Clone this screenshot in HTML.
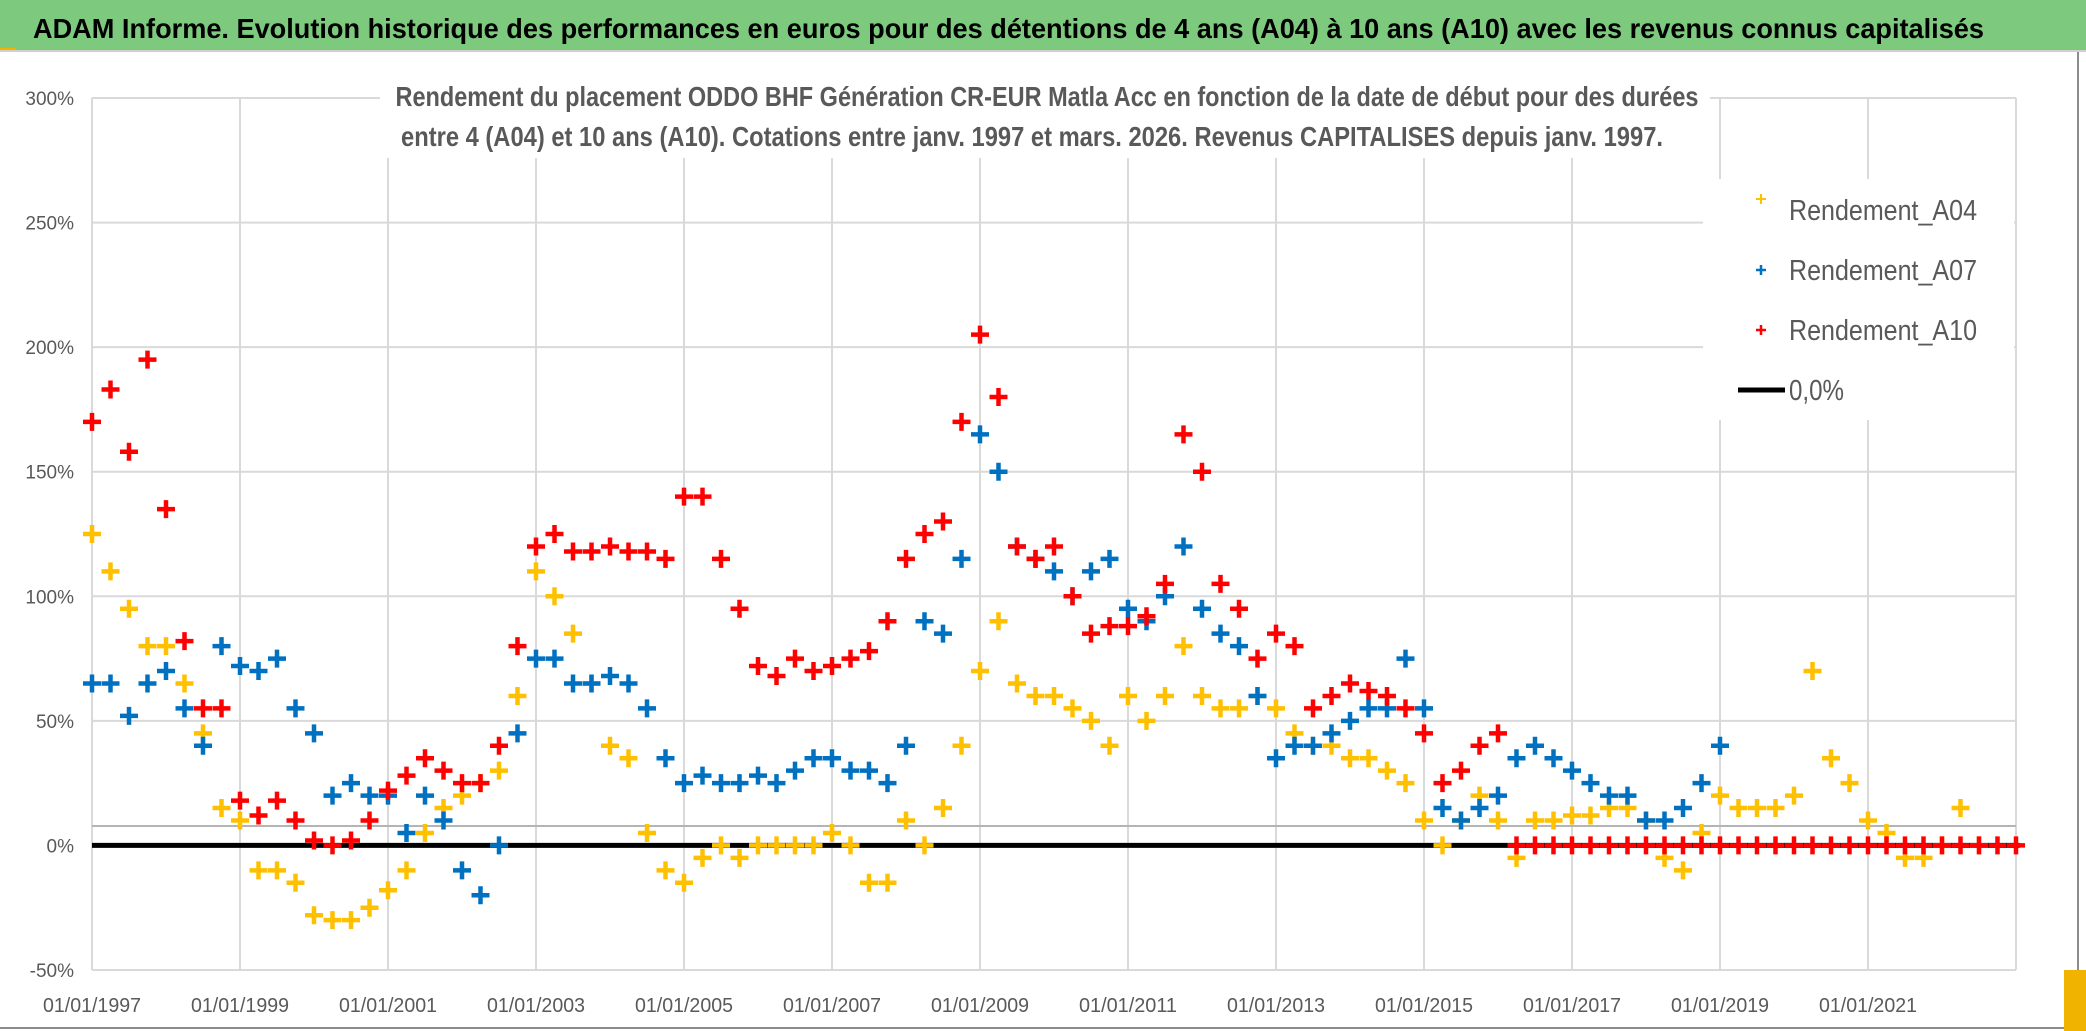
<!DOCTYPE html>
<html><head><meta charset="utf-8"><style>
html,body{margin:0;padding:0;background:#fff;}
svg{display:block;font-family:"Liberation Sans",sans-serif;}
</style></head><body>
<svg id="chart" width="2086" height="1031" viewBox="0 0 2086 1031" xmlns="http://www.w3.org/2000/svg">
<rect x="0" y="0" width="2086" height="1031" fill="#fff"/>
<rect x="0" y="0" width="2086" height="50" fill="#7dc97d"/>
<rect x="0" y="48" width="16" height="4" fill="#f0b400"/>
<line x1="0" y1="51" x2="2086" y2="51" stroke="#d0d0d0" stroke-width="2"/>
<text x="33" y="38" font-size="28" font-weight="bold" fill="#000" textLength="1951" lengthAdjust="spacingAndGlyphs">ADAM Informe. Evolution historique des performances en euros pour des détentions de 4 ans (A04) à 10 ans (A10) avec les revenus connus capitalisés</text>
<line x1="2078" y1="52" x2="2078" y2="1028" stroke="#8c8c8c" stroke-width="2"/>
<line x1="0" y1="1028" x2="2078" y2="1028" stroke="#8c8c8c" stroke-width="2"/>
<rect x="2064" y="970" width="22" height="61" fill="#f0b400"/>
<g id="grid"></g>
<rect x="380" y="60" width="1330" height="98" fill="#fff"/>
<rect x="1703" y="179" width="311" height="241" fill="#fff"/>
<text x="1047" y="106" text-anchor="middle" font-size="28" font-weight="bold" fill="#595959" textLength="1303" lengthAdjust="spacingAndGlyphs">Rendement du placement ODDO BHF Génération CR-EUR Matla Acc en fonction de la date de début pour des durées</text>
<text x="1032" y="146" text-anchor="middle" font-size="28" font-weight="bold" fill="#595959" textLength="1262" lengthAdjust="spacingAndGlyphs">entre 4 (A04) et 10 ans (A10). Cotations entre janv. 1997 et mars. 2026. Revenus CAPITALISES depuis janv. 1997.</text>
<g id="yaxis"></g>
<g id="xaxis"></g>
<g id="marks"></g>
<g id="legend">
  <g>
    <path d="M1756 199h10M1761 194v10" stroke="#ffc000" stroke-width="2"/>
    <text x="1789" y="220" font-size="29" fill="#595959" textLength="188" lengthAdjust="spacingAndGlyphs">Rendement_A04</text>
  </g>
  <g>
    <path d="M1756 270h10M1761 265v10" stroke="#0070c0" stroke-width="2.5"/>
    <text x="1789" y="280" font-size="29" fill="#595959" textLength="188" lengthAdjust="spacingAndGlyphs">Rendement_A07</text>
  </g>
  <g>
    <path d="M1756 330h10M1761 325v10" stroke="#ff0000" stroke-width="2.5"/>
    <text x="1789" y="340" font-size="29" fill="#595959" textLength="188" lengthAdjust="spacingAndGlyphs">Rendement_A10</text>
  </g>
  <g>
    <line x1="1738" y1="390" x2="1785" y2="390" stroke="#000" stroke-width="5"/>
    <text x="1789" y="400" font-size="29" fill="#595959" textLength="55" lengthAdjust="spacingAndGlyphs">0,0%</text>
  </g>
</g>
</svg>
<script>
const startYear = 1997;
const stepYears = 0.25;
const yTickValues = [300, 250, 200, 150, 100, 50, 0, -50];
const yTickLabels = ["300%", "250%", "200%", "150%", "100%", "50%", "0%", "-50%"];
const xTickYears = [1997, 1999, 2001, 2003, 2005, 2007, 2009, 2011, 2013, 2015, 2017, 2019, 2021];
const xTickLabels = ["01/01/1997","01/01/1999","01/01/2001","01/01/2003","01/01/2005","01/01/2007","01/01/2009","01/01/2011","01/01/2013","01/01/2015","01/01/2017","01/01/2019","01/01/2021"];
const zeroLineYears = [1997, 2023.05];
const rendementA04 = [125,110,95,80, 80,65,45,15, 10,-10,-10,-15, -28,-30,-30,-25, -18,-10,5,15, 20,25,30,60,
  110,100,85,65, 40,35,5,-10, -15,-5,0,-5, 0,0,0,0, 5,0,-15,-15, 10,0,15,40, 70,90,65,60, 60,55,50,40,
  60,50,60,80, 60,55,55,60, 55,45,40,40, 35,35,30,25, 10,0,10,20, 10,-5,10,10, 12,12,15,15,
  10,-5,-10,5, 20,15,15,15, 20,70,35,25, 10,5,-5,-5, 0,15,0];
const rendementA07 = [65,65,52,65, 70,55,40,80, 72,70,75,55, 45,20,25,20, 20,5,20,10, -10,-20,0,45,
  75,75,65,65, 68,65,55,35, 25,28,25,25, 28,25,30,35, 35,30,30,25, 40,90,85,115, 165,150,120,115,
  110,100,110,115, 95,90,100,120, 95,85,80,60, 35,40,40,45, 50,55,55,75, 55,15,10,15, 20,35,40,35,
  30,25,20,20, 10,10,15,25, 40];
const rendementA10 = [170,183,158,195, 135,82,55,55, 18,12,18,10, 2,0,2,10, 22,28,35,30, 25,25,40,80,
  120,125,118,118, 120,118,118,115, 140,140,115,95, 72,68,75,70, 72,75,78,90, 115,125,130,170,
  205,180,120,115, 120,100,85,88, 88,92,105,165, 150,105,95,75, 85,80,55,60, 65,62,60,55, 45,25,30,40,
  45, 0,0,0, 0,0,0,0, 0,0,0,0, 0,0,0,0, 0,0,0,0, 0,0,0,0, 0,0,0,0, 0];

const NS = "http://www.w3.org/2000/svg";
const plotLeft = 92, plotRight = 2016, plotTop = 98, plotBottom = 970;
const xMin = 1997, xMax = 2023;
const yMin = -50, yMax = 300;
function xScale(yr){ return plotLeft + (yr - xMin) / (xMax - xMin) * (plotRight - plotLeft); }
function yScale(v){ return plotBottom - (v - yMin) / (yMax - yMin) * (plotBottom - plotTop); }
function mk(tag, attrs, parent){ const e = document.createElementNS(NS, tag); for (const k in attrs) e.setAttribute(k, attrs[k]); parent.appendChild(e); return e; }

const grid = document.getElementById('grid');
yTickValues.forEach(v => {
  const l = mk('line', {x1: plotLeft, x2: plotRight, y1: yScale(v), y2: yScale(v), stroke: '#d9d9d9', 'stroke-width': 2}, grid);
  
  
});
xTickYears.forEach(yr => {
  const l = mk('line', {x1: xScale(yr), x2: xScale(yr), y1: plotTop, y2: plotBottom, stroke: '#d9d9d9', 'stroke-width': 2}, grid);
  
  
});
const rl = mk('line', {x1: plotRight, x2: plotRight, y1: plotTop, y2: plotBottom, stroke: '#d9d9d9', 'stroke-width': 2}, grid);


const hl = mk('line', {x1: plotLeft, x2: plotRight, y1: 826, y2: 826, stroke: '#b4b4b4', 'stroke-width': 2}, grid);



const yaxis = document.getElementById('yaxis');
yTickValues.forEach((v, i) => {
  const t = mk('text', {x: 74, y: yScale(v) + 7, 'text-anchor': 'end', 'font-size': 19, fill: '#595959'}, yaxis);
  t.textContent = yTickLabels[i];
  
  
});
const xaxis = document.getElementById('xaxis');
xTickYears.forEach((yr, i) => {
  const t = mk('text', {x: xScale(yr), y: 1012, 'text-anchor': 'middle', 'font-size': 20, fill: '#595959', textLength: 98, lengthAdjust: 'spacingAndGlyphs'}, xaxis);
  t.textContent = xTickLabels[i];
  
  
});

const marks = document.getElementById('marks');
const zl = mk('line', {x1: xScale(zeroLineYears[0]), x2: xScale(zeroLineYears[1]), y1: yScale(0), y2: yScale(0), stroke: '#000', 'stroke-width': 5}, marks);



function drawSeries(values, color, name){
  const g = mk('g', {}, marks);
  
  
  values.forEach((v, i) => {
    const x = xScale(startYear + i * stepYears), y = yScale(v);
    const p = mk('path', {d: `M${x-9} ${y}h18M${x} ${y-9}v18`, stroke: color, 'stroke-width': 4.5}, g);
    
    
  });
}
drawSeries(rendementA04, '#ffc000', 'series-a04');
drawSeries(rendementA07, '#0070c0', 'series-a07');
drawSeries(rendementA10, '#ff0000', 'series-a10');
</script>
</body></html>
